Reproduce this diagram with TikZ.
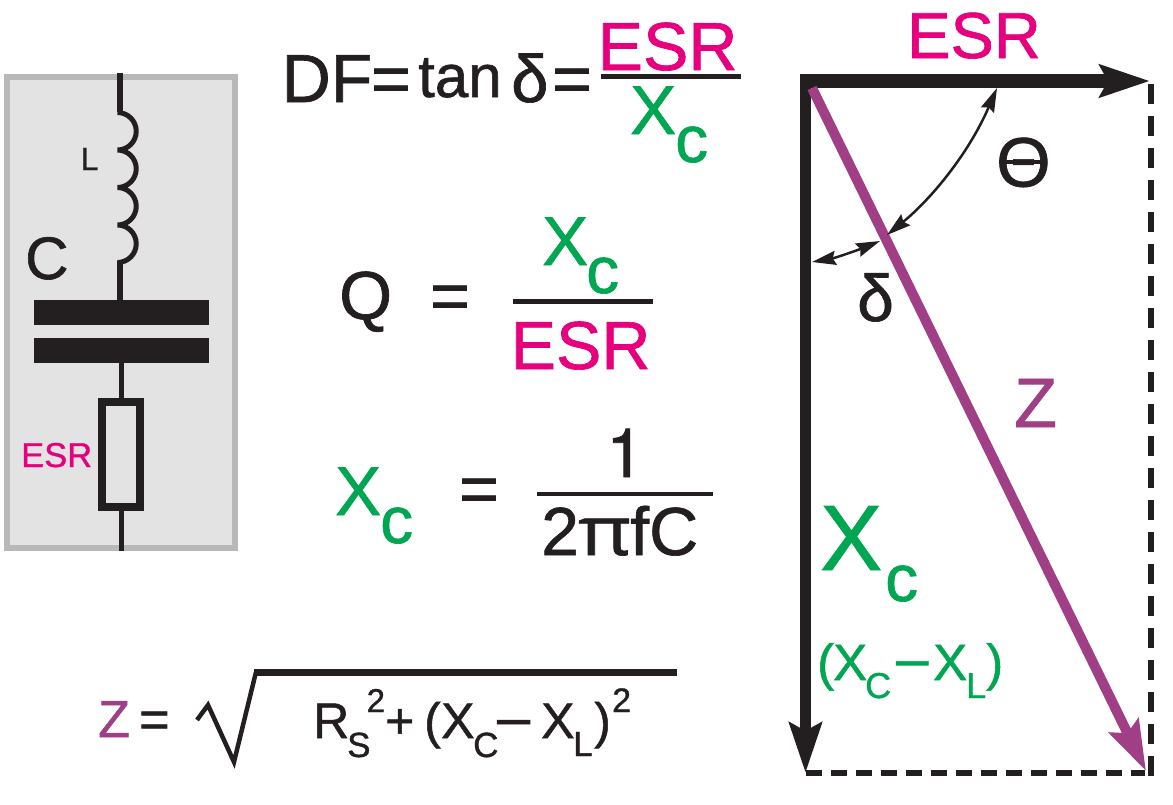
\documentclass[tikz,border=0pt]{standalone}
\usepackage{fontspec}
\setmainfont{Liberation Sans}[RawFeature={embolden=1}]
\newfontfamily\pifont{Open Sans}[RawFeature={embolden=1}]
\newfontfamily\onefont{TeX Gyre Heros}[RawFeature={embolden=1}]
\usetikzlibrary{arrows.meta}
\definecolor{ink}{HTML}{231F20}
\definecolor{esrpink}{HTML}{E6007E}
\definecolor{xgreen}{HTML}{00A651}
\definecolor{zpurple}{HTML}{A03F85}
\newcommand{\fs}[1]{\fontsize{#1}{#1}\selectfont}
\tikzset{
  lbl/.style={inner sep=0pt,anchor=base west,text=ink},
  esr/.style={lbl,text=esrpink},
  xc/.style={lbl,text=xgreen},
  zz/.style={lbl,text=zpurple},
  bigtip/.style={-{Stealth[length=50pt,width=32pt,inset=8pt]}},
  anglearc/.style={{Stealth[length=24pt,width=14pt,inset=3pt]}-{Stealth[length=24pt,width=14pt,inset=3pt]},line width=2.5pt,color=ink}
}
\begin{document}
\begin{tikzpicture}[x=1pt,y=-1pt]
\useasboundingbox (0,0) rectangle (1173,804);
% circuit
\draw[line width=6pt,color=black!28,fill=black!11] (7,77) rectangle (235,548);
\draw[line width=5.5pt,color=ink] (120,73) -- (120,112);
\draw[line width=5pt,color=ink,line join=bevel] (117.5,112.5) arc (-90:90:18.75) arc (-90:90:18.75) arc (-90:90:18.75) arc (-90:90:18.75);
\draw[line width=5.5pt,color=ink] (120,261) -- (120,300);
\fill[ink] (34,300) rectangle (209,325);
\fill[ink] (34,338) rectangle (209,363);
\draw[line width=5pt,color=ink] (121.5,363) -- (121.5,398);
\draw[line width=8pt,color=ink] (102,402) rectangle (140,507);
\draw[line width=5pt,color=ink] (121.5,511) -- (121.5,551);
\node[lbl,font=\fs{32}] (labelL) at (80.5,170) {L};
\node[lbl,font=\fs{60}] (labelC) at (25,279) {C};
\node[esr,font=\fs{34.5}] (labelR) at (21,467) {ESR};
% DF
\node[lbl,font=\fs{68}] (df) at (281.5,102) {DF};
\node[lbl,font=\fs{68}] (dfeqa) at (371,102) {=};
\node[lbl,font=\fs{60}] (dftan) at (418,97) {tan};
\node[lbl,font=\fs{67}] (dfdelta) at (511,102) {δ};
\node[lbl,font=\fs{68}] (dfeqb) at (552,102) {=};
\draw[line width=5pt,color=ink] (601,76.5) -- (741,76.5);
\node[esr,font=\fs{68}] (dfesr) at (597.5,70) {ESR};
\node[xc,font=\fs{69}] (dfx) at (630,134) {X};
\node[xc,font=\fs{66}] (dfc) at (675,162) {c};
% Q
\node[lbl,font=\fs{68}] (qq) at (339,319) {Q};
\node[lbl,font=\fs{68}] (qeq) at (430,319) {=};
\draw[line width=5pt,color=ink] (513,301.5) -- (653,301.5);
\node[xc,font=\fs{69}] (qx) at (542,265) {X};
\node[xc,font=\fs{66}] (qc) at (586,293) {c};
\node[esr,font=\fs{68}] (qesr) at (510.5,369) {ESR};
% Xc
\node[xc,font=\fs{69}] (xx) at (335,515) {X};
\node[xc,font=\fs{66}] (xxc) at (380,543) {c};
\node[lbl,font=\fs{68}] (xeq) at (459,512) {=};
\node[lbl,font=\onefont\fs{68}] (one) at (606,477) {1};
\draw[line width=4pt,color=ink] (537,494) -- (713,494);
\node[lbl,font=\fs{68}] (dentwo) at (541,555) {2};
\node[lbl,font=\pifont\fs{68},xscale=1.2] (denpi) at (578,555) {π};
\node[lbl,font=\fs{68}] (denfc) at (630,555) {fC};
% Z
\node[zz,font=\fs{52}] (zl) at (98,737) {Z};
\node[lbl,font=\fs{52}] (zeq) at (139,737) {=};
\draw[line width=4.5pt,color=ink] (197,720) -- (208,705) -- (234,762) -- (256,672);
\draw[line width=7pt,color=ink] (254,672.5) -- (677,672.5);
\node[lbl,font=\fs{50}] (rr) at (313,738) {R};
\node[lbl,font=\fs{35}] (rs) at (347,757) {S};
\node[lbl,font=\fs{33}] (rsup) at (366.5,712) {2};
\node[lbl,font=\fs{50}] (rp) at (385,738) {+};
\node[lbl,font=\fs{50}] (rxa) at (424,738) {(};
\node[lbl,font=\fs{50}] (rxb) at (441,738) {X};
\node[lbl,font=\fs{35}] (rxc) at (473,757) {C};
\node[lbl,font=\fs{59}] (rxd) at (497,737) {–};
\node[lbl,font=\fs{50}] (rxe) at (541,738) {X};
\node[lbl,font=\fs{35}] (rxf) at (573,756) {L};
\node[lbl,font=\fs{50}] (rxg) at (594,738) {)};
\node[lbl,font=\fs{34}] (rxh) at (612,712) {2};
% triangle
\draw[line width=6pt,color=ink,dash pattern=on 20pt off 12pt] (1151,84) -- (1151,777);
\draw[line width=6.5pt,color=ink,dash pattern=on 16pt off 9pt] (806,773) -- (1145,773);
\draw[line width=14pt,color=ink,bigtip] (800,81) -- (1150,81);
\draw[line width=11pt,color=ink,bigtip] (805.5,74) -- (805.5,773);
\draw[line width=10pt,color=zpurple,bigtip] (812,88) -- (1146,771);
\draw[anglearc] (997,88) .. controls (968,155) and (930,200) .. (887,235);
\draw[anglearc] (812,262) .. controls (835,258) and (858,250) .. (880,241);
\node[esr,font=\fs{65}] (topesr) at (907,58) {ESR};
\node[lbl,font=\fs{70}] (theta) at (996,186.5) {Θ};
\draw[line width=4pt,color=ink] (1002,162) -- (1044,162);
\node[lbl,font=\fs{66}] (delta) at (857,321) {δ};
\node[zz,font=\fs{70}] (zdiag) at (1014,427) {Z};
\node[xc,font=\fs{93}] (bigx) at (820,570) {X};
\node[xc,font=\fs{66}] (bigc) at (885,601) {c};
\node[xc,font=\fs{51}] (xa) at (817,680) {(};
\node[xc,font=\fs{51}] (xb) at (833,680) {X};
\node[xc,font=\fs{36}] (xsubc) at (865,698) {C};
\node[xc,font=\fs{58}] (xd) at (896,678) {–};
\node[xc,font=\fs{51}] (xe) at (933,680) {X};
\node[xc,font=\fs{36}] (xsubl) at (966,698) {L};
\node[xc,font=\fs{51}] (xg) at (986,680) {)};
\end{tikzpicture}
\end{document}
